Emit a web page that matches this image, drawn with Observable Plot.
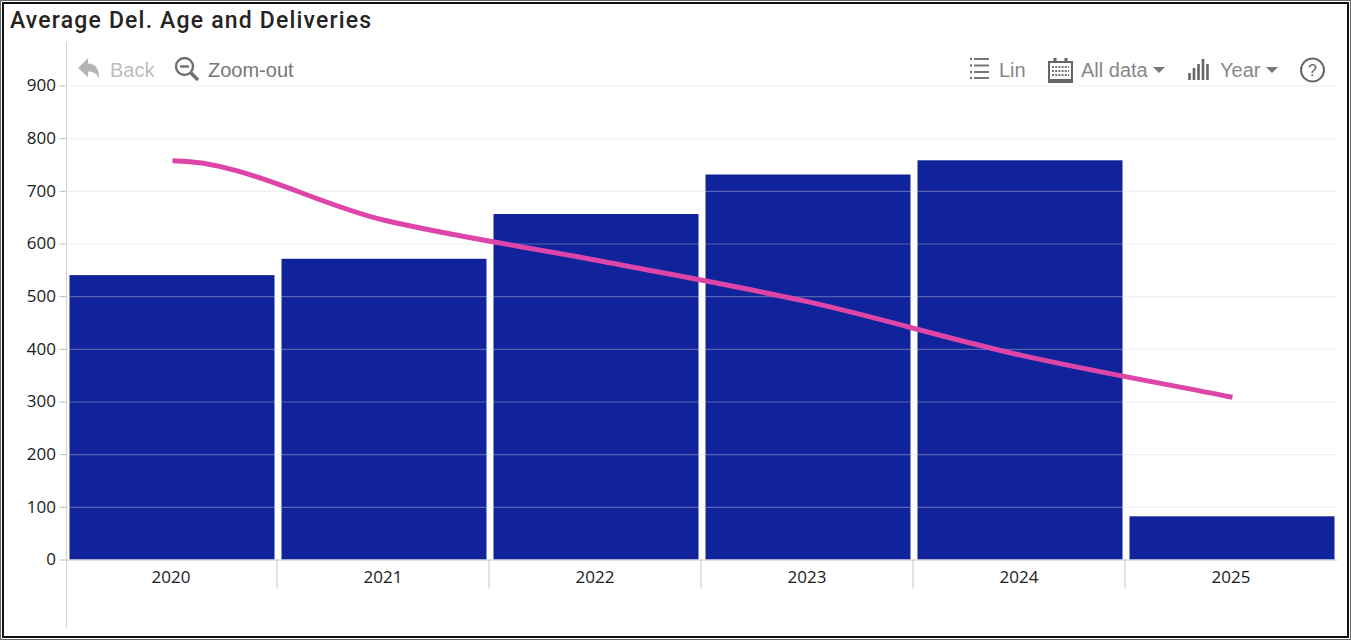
<!DOCTYPE html>
<html>
<head>
<meta charset="utf-8">
<script src="https://cdn.jsdelivr.net/npm/d3@7"></script>
<script src="https://cdn.jsdelivr.net/npm/@observablehq/plot@0.6"></script>
<style>
html,body{margin:0;padding:0;background:#fff;width:1351px;height:640px;overflow:hidden}
#wrap{position:relative;width:1351px;height:640px}
#wrap svg.plot{position:absolute;left:0;top:0}
#frame{position:absolute;left:0;top:0;width:1351px;height:640px;box-sizing:border-box;border:1px solid #666;pointer-events:none}
#frame2{position:absolute;left:2px;top:2px;width:1347px;height:636px;box-sizing:border-box;border:2px solid #111;pointer-events:none}
#title{position:absolute;left:10px;top:7px;font:500 23px Roboto,sans-serif;letter-spacing:1.18px;color:#252423;white-space:nowrap}
.t{position:absolute;top:59px;font:20px "Liberation Sans",Arial,sans-serif;color:#777;white-space:nowrap;line-height:23px}
.i{position:absolute}
</style>
</head>
<body>
<div id="wrap">
<div id="title">Average Del. Age and Deliveries</div>
</div>
<script>
const years = [2020, 2021, 2022, 2023, 2024, 2025];
const deliveries = [540, 571, 656, 731, 758, 82];
const avgAge = [758, 645, 569, 490, 389, 309];
const yTicks = [0, 100, 200, 300, 400, 500, 600, 700, 800, 900];
const barRows = years.map((year, i) => ({year, value: deliveries[i]}));
const lineRows = years.map((year, i) => ({year, value: avgAge[i]}));

// Smooth curve that leaves its first point flat, as the reference's line does.
function flatStartCurve(context) {
  let pts = [];
  return {
    areaStart() {}, areaEnd() {},
    lineStart() { pts = []; },
    point(x, y) { pts.push([+x, +y]); },
    lineEnd() {
      const n = pts.length;
      if (!n) return;
      const sec = i => (pts[i + 1][1] - pts[i][1]) / (pts[i + 1][0] - pts[i][0]);
      const tan = pts.map((_, i) =>
        i === 0 ? 0 : i === n - 1 ? sec(n - 2) : (sec(i - 1) + sec(i)) / 2);
      context.moveTo(pts[0][0], pts[0][1]);
      for (let i = 0; i < n - 1; i++) {
        const h = (pts[i + 1][0] - pts[i][0]) / 3;
        context.bezierCurveTo(pts[i][0] + h, pts[i][1] + h * tan[i],
          pts[i + 1][0] - h, pts[i + 1][1] - h * tan[i + 1], pts[i + 1][0], pts[i + 1][1]);
      }
    }
  };
}

const chart = Plot.plot({
  width: 1351,
  height: 640,
  marginLeft: 65.5,
  marginRight: 13.5,
  marginTop: 85.5,
  marginBottom: 80.5,
  style: {background: "transparent", overflow: "visible"},
  x: {type: "band", domain: years, padding: 0, align: 0.5},
  y: {domain: [0, 900]},
  marks: [
    Plot.barY(barRows, {x: "year", y: "value", fill: "#10239A", insetLeft: 3.5, insetRight: 3.5}),
    Plot.ruleY(yTicks.slice(1), {stroke: "#d8d8d8", strokeOpacity: 0.35, strokeWidth: 1.2}),
    Plot.ruleY([0], {stroke: "#c8c8d8", strokeWidth: 1}),
    Plot.ruleX(years.slice(1), {x: d => d, dx: -107.5, y1: 0, y2: -55, stroke: "#c4c4c4", strokeWidth: 1}),
    Plot.ruleX(years.slice(0, 1), {x: d => d, dx: -106, y1: -131, y2: 983, stroke: "#d4d4d4", strokeWidth: 1}),
    Plot.line(lineRows, {x: "year", y: "value", stroke: "#DD46A8", strokeWidth: 5, curve: flatStartCurve, strokeLinecap: "butt"}),
    Plot.axisY({ticks: yTicks, label: null, tickSize: 6, tickPadding: 4, stroke: "#bbb", color: "#bbb",
      tickFormat: d => d, fill: "#1a1a1a", fontSize: 17, fontFamily: "Open Sans"}),
    Plot.axisX({label: null, tickSize: 0, tickPadding: 11, dx: -1.5, fill: "#1a1a1a", fontSize: 17, fontFamily: "Open Sans", tickFormat: d => String(d)})
  ]
});
const wrap = document.getElementById("wrap");
chart.classList.add("plot");
wrap.prepend(chart);

// Toolbar chrome (not chart data)
const labels = [["Back",110,"#bdbdbd"],["Zoom-out",208,"#777"],["Lin",999,"#888"],["All data",1081,"#888"],["Year",1220,"#888"]];
labels.forEach(([s,x,c]) => {
  const d = document.createElement("div");
  d.className = "t"; d.textContent = s; d.style.left = x + "px"; d.style.color = c;
  wrap.append(d);
});
const icons = `
<svg class="i" style="left:0;top:0" width="1351" height="120" fill="none">
  <path d="M78 68 L88 58 V63.5 C95 63.5 99.5 68 99 79 C97 73.5 94 71.5 88 71.5 V77 Z" fill="#b5b5b5"/>
  <circle cx="184.5" cy="66.5" r="8.5" stroke="#6e6e6e" stroke-width="2.4"/>
  <path d="M180 66.5 H189" stroke="#6e6e6e" stroke-width="2.4"/>
  <path d="M191 73 L198 80" stroke="#6e6e6e" stroke-width="3.4"/>
  <g stroke="#777" stroke-width="1.8">
    <path d="M974 59 H989 M974 65.5 H989 M974 72 H989 M974 78 H989"/>
    <path d="M970 59 H972 M970 65.5 H972 M970 72 H972 M970 78 H972" stroke-width="2.4"/>
  </g>
  <path d="M1049 62 H1072 V82 H1049 Z" stroke="#666" stroke-width="2"/>
  <path d="M1048 80.5 H1073" stroke="#666" stroke-width="3"/>
  <path d="M1055 58 V63 M1066 58 V63" stroke="#666" stroke-width="3"/>
  <path d="M1052 67 H1069 M1052 71 H1069 M1052 75 H1069" stroke="#777" stroke-width="2" stroke-dasharray="2 1.2"/>
  <path d="M1153 67 H1165 L1159 73 Z" fill="#777"/>
  <path d="M1189.5 80 V73 M1194 80 V68 M1198.5 80 V64 M1203 80 V59 M1207.5 80 V64" stroke="#666" stroke-width="2.6"/>
  <path d="M1266 67 H1278 L1272 73 Z" fill="#777"/>
  <circle cx="1312.5" cy="70" r="11.5" stroke="#666" stroke-width="2"/>
  <text x="1312.5" y="76" text-anchor="middle" font-family="Liberation Sans" font-size="16" fill="#666">?</text>
</svg>`;
wrap.insertAdjacentHTML("beforeend", icons);
wrap.insertAdjacentHTML("beforeend", '<div id="frame"></div><div id="frame2"></div>');
</script>
</body>
</html>
